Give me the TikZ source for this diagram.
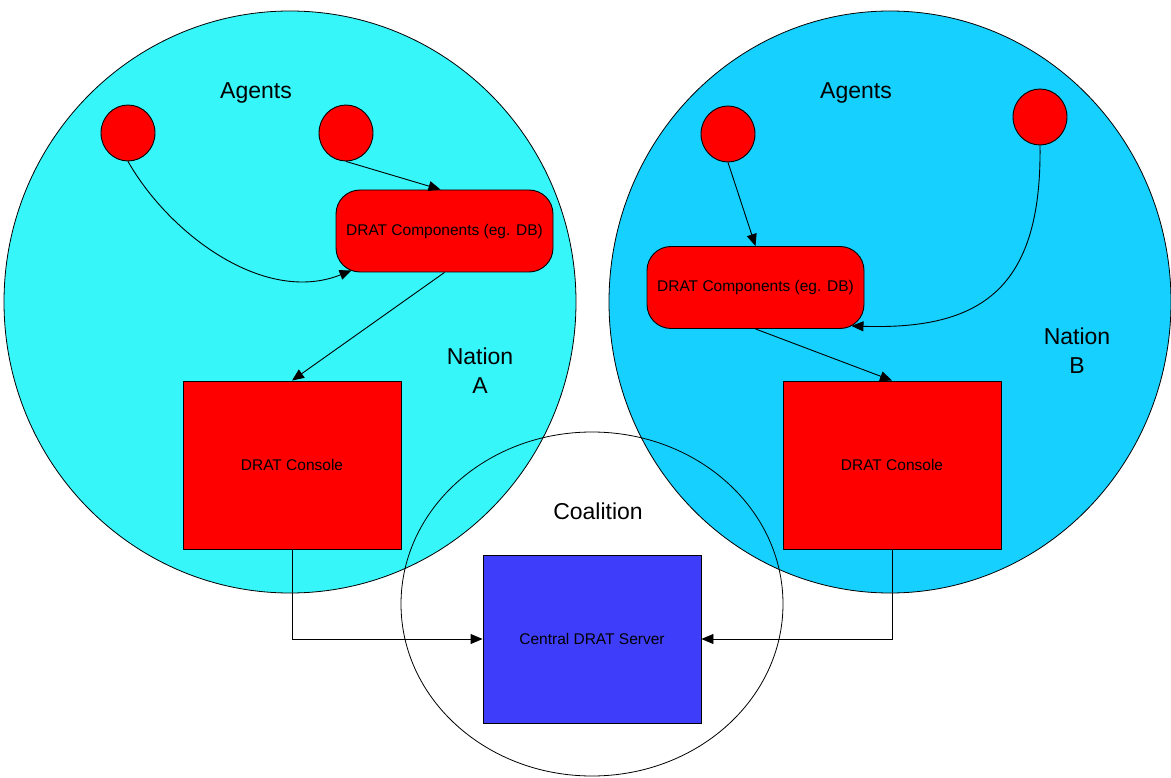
\documentclass[tikz,border=0pt]{standalone}
\usepackage{fontspec}
\setmainfont{Liberation Sans}
\usepackage{tikz}
\usetikzlibrary{shapes.geometric,arrows.meta,positioning}

\definecolor{nationa}{RGB}{55,246,250}
\definecolor{nationb}{RGB}{22,208,255}
\definecolor{serverblue}{RGB}{62,62,250}

\tikzset{
    nation/.style={ellipse, draw, line width=0.8pt, inner sep=0pt},
    agent/.style={ellipse, draw, fill=red, minimum width=54pt, minimum height=56pt, inner sep=0pt},
    comp/.style={rectangle, draw, fill=red, rounded corners=24pt, minimum width=217pt, minimum height=82pt, inner sep=2pt},
    console/.style={rectangle, draw, fill=red, minimum width=218pt, minimum height=168pt},
    server/.style={rectangle, draw, fill=serverblue, minimum width=218pt, minimum height=168pt},
    biglabel/.style={font=\fontsize{23}{29}\selectfont, align=center}
}

\begin{document}
\begin{tikzpicture}[x=1pt, y=-1pt, line width=0.9pt, >={Triangle[length=12pt,width=10pt]},
                    every node/.style={font=\fontsize{15.5}{18}\selectfont}]
                \useasboundingbox (0,0) rectangle (1171,778);
                \clip (0,0) rectangle (1171,778);

                \node[nation, fill=nationa, minimum width=572pt, minimum height=582pt] (natA) at (290,302) {};
                \node[nation, fill=nationb, minimum width=562pt, minimum height=582pt] (natB) at (890,302) {};
                \node[nation, minimum width=382pt, minimum height=344pt] (coal) at (592,604) {};

                \node[biglabel] (agentsA) at (256,93) {Agents};
                \node[biglabel] (agentsB) at (856,93) {Agents};
                \node[biglabel] (labA) at (480,371) {Nation\\A};
                \node[biglabel] (labB) at (1077,351) {Nation\\B};
                \node[biglabel] (labC) at (598,511) {Coalition};

                \node[agent] (agA1) at (128,133) {};
                \node[agent] (agA2) at (346,133) {};
                \node[agent] (agB1) at (728,134) {};
                \node[agent] (agB2) at (1040,117) {};

                \node[comp] (compA) at (444.5,231) {DRAT Components (eg. DB)};
                \node[comp] (compB) at (755.5,287.5) {DRAT Components (eg. DB)};

                \node[console] (consA) at (292,465) {DRAT Console};
                \node[console] (consB) at (892,465) {DRAT Console};
                \node[server] (server) at (592,639) {Central DRAT Server};

                \draw[->] (agA1.south) .. controls (170,235) and (265,305) .. ([shift={(16,-2)}]compA.south west);
                \draw[->] (agA2.south) -- ([xshift=-4pt]compA.north);
                \draw[->] (compA.south) -- (consA.north);
                \draw[->] (consA.south) |- (server.west);

                \draw[->] (agB1.south) -- (compB.north);
                \draw[->] (agB2.south) .. controls (1042,290) and (980,330) .. ([shift={(-13,-3)}]compB.south east);
                \draw[->] (compB.south) -- (consB.north);
                \draw[->] (consB.south) |- (server.east);
\end{tikzpicture}
\end{document}
